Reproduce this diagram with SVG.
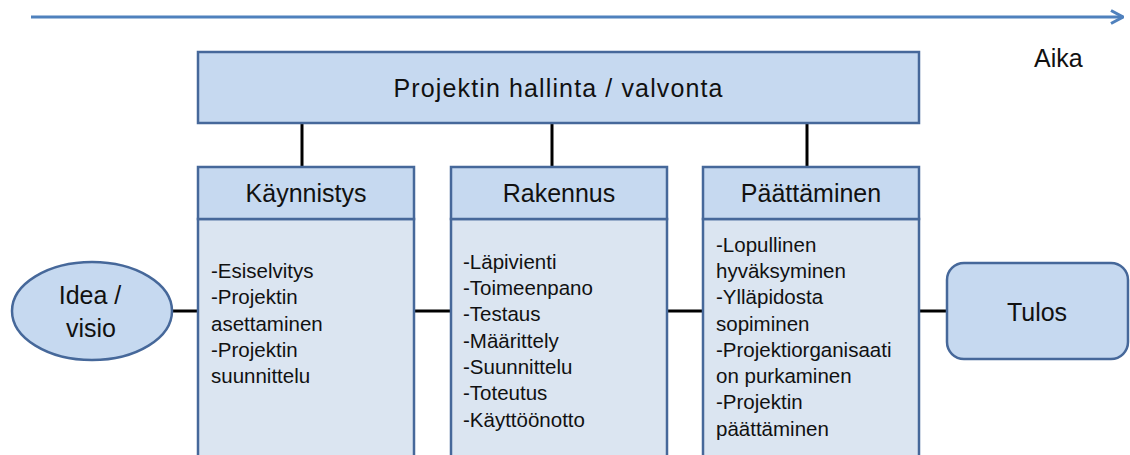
<svg xmlns="http://www.w3.org/2000/svg" width="1130" height="455" viewBox="0 0 1130 455">
<style>
.box{fill:#C6D9F0;stroke:#46689A;stroke-width:2.5}
.body{fill:#DBE5F1;stroke:#46689A;stroke-width:2.5}
.t{font-family:"Liberation Sans",Arial,sans-serif;fill:#111}
.h{font-size:25px;text-anchor:middle}
.b{font-size:20.5px}
.conn{stroke:#000;stroke-width:3;fill:none}
</style>
<defs>
<marker id="arr" viewBox="0 0 14 16" refX="13" refY="8" markerWidth="14" markerHeight="16" markerUnits="userSpaceOnUse" orient="auto">
<path d="M1,1.5 L13,8 L1,14.5" fill="none" stroke="#4F81BD" stroke-width="3"/>
</marker>
</defs>
<g id="timeline">
<line x1="31" y1="17" x2="1123" y2="17" stroke="#4F81BD" stroke-width="3" marker-end="url(#arr)"/>
<text class="t" x="1034" y="67" font-size="25">Aika</text>
</g>
<g id="connectors">
<line class="conn" x1="302" y1="123" x2="302" y2="167"/>
<line class="conn" x1="552" y1="123" x2="552" y2="167"/>
<line class="conn" x1="807" y1="123" x2="807" y2="167"/>
<line class="conn" x1="172" y1="311" x2="198" y2="311"/>
<line class="conn" x1="414" y1="311" x2="451" y2="311"/>
<line class="conn" x1="667" y1="311" x2="703" y2="311"/>
<line class="conn" x1="919" y1="311" x2="947" y2="311"/>
</g>
<g id="hallinta">
<rect class="box" x="198" y="52" width="721" height="71"/>
<text class="t h" x="558" y="97" textLength="329" lengthAdjust="spacing">Projektin hallinta / valvonta</text>
</g>
<g id="idea">
<ellipse class="box" cx="92" cy="311" rx="80" ry="49"/>
<text class="t h" x="90" y="304">Idea /</text>
<text class="t h" x="91" y="337">visio</text>
</g>
<g id="kaynnistys">
<rect class="body" x="198" y="219" width="216" height="245"/>
<rect class="box" x="198" y="167" width="216" height="52"/>
<text class="t h" x="306" y="202">Käynnistys</text>
<text class="t b" x="211" y="278">-Esiselvitys</text>
<text class="t b" x="211" y="304">-Projektin</text>
<text class="t b" x="211" y="331">asettaminen</text>
<text class="t b" x="211" y="357">-Projektin</text>
<text class="t b" x="211" y="383">suunnittelu</text>
</g>
<g id="rakennus">
<rect class="body" x="451" y="219" width="216" height="245"/>
<rect class="box" x="451" y="167" width="216" height="52"/>
<text class="t h" x="559" y="202">Rakennus</text>
<text class="t b" x="463" y="269">-Läpivienti</text>
<text class="t b" x="463" y="295">-Toimeenpano</text>
<text class="t b" x="463" y="321">-Testaus</text>
<text class="t b" x="463" y="348">-Määrittely</text>
<text class="t b" x="463" y="374">-Suunnittelu</text>
<text class="t b" x="463" y="400">-Toteutus</text>
<text class="t b" x="463" y="427">-Käyttöönotto</text>
</g>
<g id="paattaminen">
<rect class="body" x="703" y="219" width="216" height="245"/>
<rect class="box" x="703" y="167" width="216" height="52"/>
<text class="t h" x="811" y="202">Päättäminen</text>
<text class="t b" x="716" y="252">-Lopullinen</text>
<text class="t b" x="716" y="278">hyväksyminen</text>
<text class="t b" x="716" y="304">-Ylläpidosta</text>
<text class="t b" x="716" y="331">sopiminen</text>
<text class="t b" x="716" y="357">-Projektiorganisaati</text>
<text class="t b" x="716" y="383">on purkaminen</text>
<text class="t b" x="716" y="409">-Projektin</text>
<text class="t b" x="716" y="436">päättäminen</text>
</g>
<g id="tulos">
<rect class="box" x="947" y="263" width="181" height="96" rx="17"/>
<text class="t h" x="1037" y="321">Tulos</text>
</g>
</svg>
